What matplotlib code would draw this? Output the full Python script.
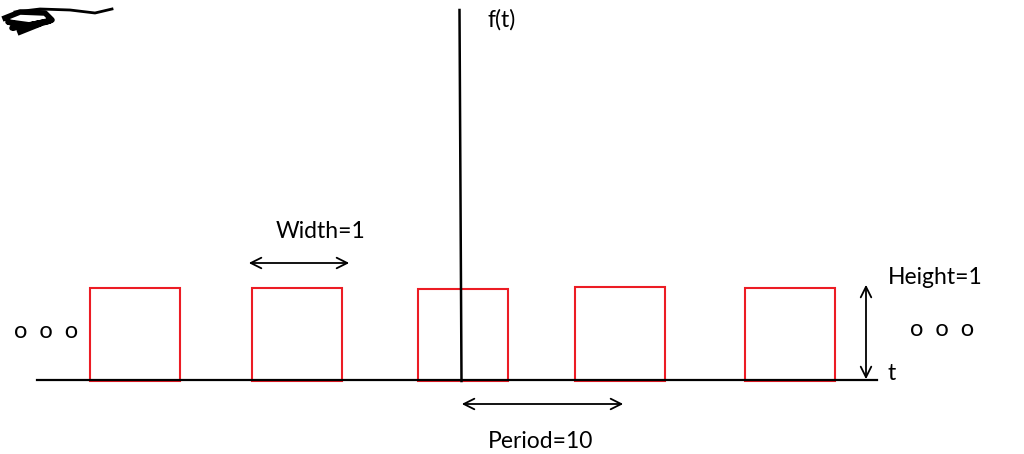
import matplotlib.pyplot as plt
from matplotlib.patches import Rectangle

# pulse train (drawn in picture units, 1 unit = 1 px)
pulse_left = [90, 252, 418, 575, 745]
pulse_top = [288, 288, 289, 287, 288]
pulse_width = 90
baseline = 381

plt.rcParams['font.family'] = ['Lato', 'DejaVu Sans']

fig = plt.figure(figsize=(10.24, 4.54), dpi=100)
ax = fig.add_axes([0, 0, 1, 1])
ax.set_xlim(0, 1024)
ax.set_ylim(454, 0)
ax.axis('off')

# axes of the sketch
ax.plot([37, 877], [380, 380], color='black', lw=1.6)
ax.plot([459.5, 461.5], [10, 381], color='black', lw=1.8)

for x, top in zip(pulse_left, pulse_top):
    ax.add_patch(Rectangle((x, top), pulse_width, baseline - top,
                           fill=False, edgecolor='#ec1c24', lw=1.5))

arrow = dict(arrowstyle='<->', color='black', lw=1.3, mutation_scale=19)
ax.annotate('', xy=(246, 263), xytext=(352, 263), arrowprops=arrow)
ax.annotate('', xy=(459, 404), xytext=(626, 404), arrowprops=arrow)
ax.annotate('', xy=(866, 282), xytext=(866, 382), arrowprops=arrow)

fs = 16.5
ax.text(488, 20, 'f(t)', fontsize=fs, va='center', ha='left')
ax.text(887, 374, 't', fontsize=fs, va='center', ha='left')
ax.text(321, 231, 'Width=1', fontsize=fs, va='center', ha='center')
ax.text(888, 278, 'Height=1', fontsize=fs, va='center', ha='left')
ax.text(541, 442, 'Period=10', fontsize=fs, va='center', ha='center')
ax.text(46, 331, 'o  o  o', fontsize=17, va='center', ha='center')
ax.text(942, 329, 'o  o  o', fontsize=17, va='center', ha='center')

# scribble in the top-left corner
ax.plot([15, 40, 70, 95, 112], [12, 9, 10, 13, 9], color='black', lw=2)
ax.plot([5, 20, 45, 52, 30, 8, 28, 50, 12, 40, 20], [18, 12, 13, 20, 25, 22,
        27, 21, 28, 24, 32], color='black', lw=4)

fig.savefig('out.png', dpi=100)
